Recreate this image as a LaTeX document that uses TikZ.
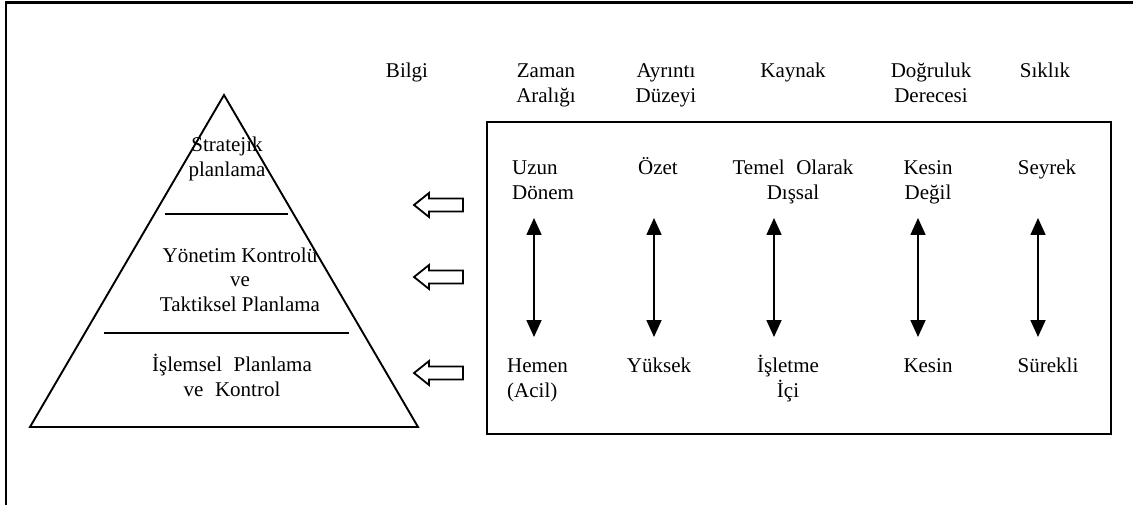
\documentclass[tikz,border=0pt]{standalone}
\usepackage{fontspec}
\setmainfont{Liberation Serif}
\usetikzlibrary{arrows.meta}
\begin{document}
\begin{tikzpicture}[x=1pt,y=-1pt,
  txt/.style={inner sep=0pt,font=\fontsize{21}{25}\selectfont,align=center},
  txtl/.style={inner sep=0pt,font=\fontsize{21}{25}\selectfont,align=left,anchor=west},
  frameline/.style={line width=2.2pt},
  pyr/.style={line width=1.9pt,line join=miter},
  hollow/.style={line width=1.8pt,fill=white,line join=miter},
  dbl/.style={line width=1.7pt,{Triangle[width=15pt,length=17pt]}-{Triangle[width=15pt,length=17pt]}}
]
\useasboundingbox (0,0) rectangle (1133,505);
% outer frame (top and left only)
\draw[frameline] (1133,2.5) -- (6,2.5) -- (6,505);
% pyramid
\coordinate (apex) at (224,95);
\coordinate (bl) at (30,427);
\coordinate (br) at (418,427);
\draw[pyr] (apex) -- (br) -- (bl) -- cycle;
\coordinate (l1a) at (165,214); \coordinate (l1b) at (288,214);
\coordinate (l2a) at (104,333); \coordinate (l2b) at (349,333);
\draw[pyr] (l1a) -- (l1b);
\draw[pyr] (l2a) -- (l2b);
\node[txt] (strat) at (227,159.5) {\strut Stratejik\\planlama\strut};
\node[txt] (yon) at (240,282) {\strut Yönetim Kontrolü\\ve\\Taktiksel Planlama\strut};
\node[txt] (isl) at (232,378.5) {\strut İşlemsel\hspace{0.3em} Planlama\\ve\hspace{0.3em} Kontrol\strut};
% hollow arrows
\foreach \n/\y in {h1/205,h2/277,h3/373}{
  \draw[hollow] (414,\y) -- (429,\y-12) -- (429,\y-6.5) -- (463,\y-6.5) -- (463,\y+6.5) -- (429,\y+6.5) -- (429,\y+12) -- cycle;
}
% column headers
\node[txt] (bilgi) at (407,73) {\strut Bilgi};
\node[txt] (zaman) at (546,85.5) {\strut Zaman\\Aralığı\strut};
\node[txt] (ayr) at (666,85.5) {\strut Ayrıntı\\Düzeyi\strut};
\node[txt] (kay) at (793,73) {\strut Kaynak};
\node[txt] (dog) at (931,85.5) {\strut Doğruluk\\Derecesi\strut};
\node[txt] (sik) at (1045,73) {\strut Sıklık};
% box
\node[draw,line width=2.2pt,minimum width=624pt,minimum height=312pt,inner sep=0pt,anchor=north west] (box) at (486,121) {};
% top labels
\node[txtl] (uzun) at (512,182.5) {\strut Uzun\\Dönem\strut};
\node[txt] (ozet) at (658,170) {\strut Özet};
\node[txt] (temel) at (793,182.5) {\strut Temel\hspace{0.3em} Olarak\\Dışsal\strut};
\node[txt] (kesind) at (928,182.5) {\strut Kesin\\Değil\strut};
\node[txt] (seyrek) at (1047,170) {\strut Seyrek};
% bottom labels
\node[txtl] (hemen) at (507,379.5) {\strut Hemen\\(Acil)\strut};
\node[txt] (yuksek) at (659,367) {\strut Yüksek};
\node[txt] (isletme) at (788,379.5) {\strut İşletme\\İçi\strut};
\node[txt] (kesin) at (928,367) {\strut Kesin};
\node[txt] (surekli) at (1048,367) {\strut Sürekli};
% double arrows
\foreach \n/\x in {a/534,b/654,c/774,d/918,e/1038}{
  \coordinate (\n t) at (\x,218);
  \coordinate (\n b) at (\x,337);
  \draw[dbl] (\n t) -- (\n b);
}
\end{tikzpicture}
\end{document}
